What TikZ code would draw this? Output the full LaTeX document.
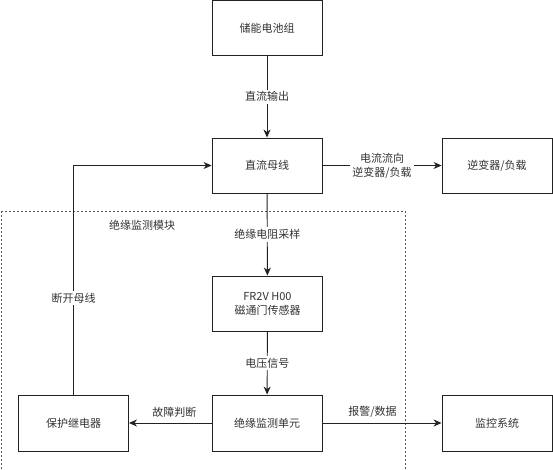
\documentclass[tikz,border=0pt]{standalone}
\usepackage{fontspec}
\setmainfont{Noto Sans CJK SC}
\usetikzlibrary{arrows.meta}
\definecolor{txt}{HTML}{333333}
\definecolor{ln}{HTML}{222222}
\begin{document}
\begin{tikzpicture}[x=1pt,y=-1pt,
  box/.style={draw=ln, line width=0.9pt, minimum width=110pt, minimum height=55pt, inner sep=0pt, align=center, text=txt, font=\fontsize{11}{14}\selectfont},
  lbl/.style={fill=white, inner sep=2pt, align=center, text=txt, font=\fontsize{11}{14}\selectfont},
  plainlbl/.style={inner sep=2pt, align=center, text=txt, font=\fontsize{11}{14}\selectfont},
  arr/.style={draw=ln, line width=0.9pt, -{Stealth[length=8pt,width=7pt,inset=2.5pt]}},
  module/.style={draw=gray!70!black, line width=0.9pt, dash pattern=on 2pt off 2pt}]
\useasboundingbox (0,0) rectangle (553,470);
\fill[white] (0,0) rectangle (553,470);
\draw[module] (1,211) rectangle (405,478);
\node[plainlbl] (mlabel) at (142,225) {绝缘监测模块};
\node[box] (bat) at (267,28) {储能电池组};
\node[box] (bus) at (267,165.5) {直流母线};
\node[box] (inv) at (497,165.5) {逆变器/负载};
\node[box] (sen) at (267.5,303.5) {FR2V H00\\磁通门传感器};
\node[box, minimum height=56pt] (relay) at (73.5,423) {保护继电器};
\node[box, minimum height=56pt] (unit) at (267,423) {绝缘监测单元};
\node[box, minimum height=56pt] (mon) at (497,423) {监控系统};
\draw[arr] (bat) -- node[lbl]{直流输出} (bus);
\draw[arr] (bus) -- node[lbl]{电流流向\\逆变器/负载} (inv);
\draw[arr] (bus) -- node[lbl]{绝缘电阻采样} (sen);
\draw[arr] (sen) -- node[lbl]{电压信号} (unit);
\draw[arr] (unit) -- node[plainlbl, above=3pt, pos=0.45]{故障判断} (relay);
\draw[arr] (unit) -- node[plainlbl, above=3pt, pos=0.42]{报警/数据} (mon);
\coordinate (corner) at (relay.north |- bus.west);
\draw[arr] (relay.north) -- node[lbl, pos=0.42]{断开母线} (corner) -- (bus.west);
\end{tikzpicture}
\end{document}
